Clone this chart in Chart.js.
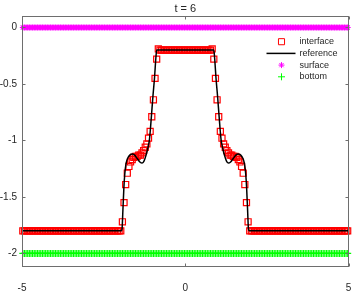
<!DOCTYPE html>
<html>
<head>
<meta charset="utf-8">
<script src="https://cdn.jsdelivr.net/npm/chart.js@4.4.1/dist/chart.umd.min.js"></script>
<style>
  html, body { margin: 0; padding: 0; background: #fff; }
</style>
</head>
<body>
<canvas id="chart" width="354" height="294"></canvas>
<script>
// 격자 (셀 중심)
var cellCount = 200;
var cellStart = -4.975;
var cellStep = 0.05;

// interface 값 (셀마다)
var interfaceY = [
  -1.8, -1.8, -1.8, -1.8, -1.8, -1.8, -1.8, -1.8, -1.8, -1.8, -1.8, -1.8, -1.8, -1.8, -1.8, -1.8, -1.8, -1.8, -1.8, -1.8,
  -1.8, -1.8, -1.8, -1.8, -1.8, -1.8, -1.8, -1.8, -1.8, -1.8, -1.8, -1.8, -1.8, -1.8, -1.8, -1.8, -1.8, -1.8, -1.8, -1.8,
  -1.8, -1.8, -1.8, -1.8, -1.8, -1.8, -1.8, -1.8, -1.8, -1.8, -1.8, -1.8, -1.8, -1.8, -1.8, -1.8, -1.8, -1.8, -1.8, -1.8,
  -1.8, -1.72, -1.55, -1.39, -1.29, -1.23, -1.19, -1.17, -1.15, -1.14, -1.14, -1.13, -1.13, -1.11, -1.09, -1.06, -1.03, -0.98, -0.92, -0.79,
  -0.64, -0.45, -0.28, -0.19, -0.2, -0.2, -0.2, -0.2, -0.2, -0.2, -0.2, -0.2, -0.2, -0.2, -0.2, -0.2, -0.2, -0.2, -0.2, -0.2,
  -0.2, -0.2, -0.2, -0.2, -0.2, -0.2, -0.2, -0.2, -0.2, -0.2, -0.2, -0.2, -0.2, -0.2, -0.2, -0.2, -0.19, -0.28, -0.45, -0.64,
  -0.79, -0.92, -0.98, -1.03, -1.06, -1.09, -1.11, -1.13, -1.13, -1.14, -1.14, -1.15, -1.17, -1.19, -1.23, -1.29, -1.39, -1.55, -1.72, -1.8,
  -1.8, -1.8, -1.8, -1.8, -1.8, -1.8, -1.8, -1.8, -1.8, -1.8, -1.8, -1.8, -1.8, -1.8, -1.8, -1.8, -1.8, -1.8, -1.8, -1.8,
  -1.8, -1.8, -1.8, -1.8, -1.8, -1.8, -1.8, -1.8, -1.8, -1.8, -1.8, -1.8, -1.8, -1.8, -1.8, -1.8, -1.8, -1.8, -1.8, -1.8,
  -1.8, -1.8, -1.8, -1.8, -1.8, -1.8, -1.8, -1.8, -1.8, -1.8, -1.8, -1.8, -1.8, -1.8, -1.8, -1.8, -1.8, -1.8, -1.8, -1.8
];

// reference 곡선
var refX = [-5, -1.96, -1.935, -1.91, -1.88, -1.85, -1.81, -1.76, -1.70, -1.62, -1.55, -1.47, -1.39, -1.32, -1.26, -1.20, -1.14, -1.10, -1.07, -1.03, -0.99, -0.94, -0.90, -0.875,
            0.875, 0.90, 0.94, 0.99, 1.03, 1.07, 1.10, 1.14, 1.20, 1.26, 1.32, 1.39, 1.47, 1.55, 1.62, 1.70, 1.76, 1.81, 1.85, 1.88, 1.91, 1.935, 1.96, 5];
var refY = [-1.8, -1.8, -1.78, -1.62, -1.42, -1.29, -1.20, -1.155, -1.13, -1.12, -1.13, -1.16, -1.19, -1.2, -1.18, -1.13, -1.06, -1.0, -0.91, -0.76, -0.61, -0.44, -0.27, -0.2,
            -0.2, -0.27, -0.44, -0.61, -0.76, -0.91, -1.0, -1.06, -1.13, -1.18, -1.2, -1.19, -1.16, -1.13, -1.12, -1.13, -1.155, -1.20, -1.29, -1.42, -1.62, -1.78, -1.8, -1.8];

var surfaceLevel = 0;
var bottomLevel = -2;

var xTicks = [-5, 0, 5];
var yTicks = [-2, -1.5, -1, -0.5, 0];

var titleText = "t = 6";
var legendLabels = ["interface", "reference", "surface", "bottom"];

var textColor = "#262626";
var axisColor = "#6e6e6e";

var gridX = [];
for (var i = 0; i < cellCount; i++) {
  gridX.push(+(cellStart + i * cellStep).toFixed(3));
}

function pairs(xs, ys) {
  var out = [];
  for (var i = 0; i < xs.length; i++) out.push({ x: xs[i], y: ys[i] });
  return out;
}

function level(xs, v) {
  var out = [];
  for (var i = 0; i < xs.length; i++) out.push({ x: xs[i], y: v });
  return out;
}

// 축 박스, 안쪽 눈금, 범례
var framePlugin = {
  id: "frame",
  afterDraw: function (chart) {
    var ctx = chart.ctx;
    var a = chart.chartArea;
    var xs = chart.scales.x;
    var ys = chart.scales.y;
    var L = Math.round(a.left) + 0.5, R = Math.round(a.right) - 0.5;
    var T = Math.round(a.top) + 0.5, B = Math.round(a.bottom) - 0.5;

    ctx.save();
    ctx.strokeStyle = axisColor;
    ctx.lineWidth = 1;
    ctx.strokeRect(L, T, R - L, B - T);

    ctx.beginPath();
    xTicks.forEach(function (v) {
      var px = Math.round(xs.getPixelForValue(v)) + 0.5;
      ctx.moveTo(px, B); ctx.lineTo(px, B - 3);
      ctx.moveTo(px, T); ctx.lineTo(px, T + 3);
    });
    yTicks.forEach(function (v) {
      var py = Math.round(ys.getPixelForValue(v)) + 0.5;
      ctx.moveTo(L, py); ctx.lineTo(L + 3, py);
      ctx.moveTo(R, py); ctx.lineTo(R - 3, py);
    });
    ctx.stroke();

    // 범례
    var textX = a.right - 49;
    var markX = a.right - 67;
    ctx.font = "9px 'Liberation Sans', Arial, sans-serif";
    ctx.textBaseline = "middle";
    ctx.textAlign = "left";
    for (var k = 0; k < legendLabels.length; k++) {
      var y = a.top + 25.5 + 11.7 * k;
      ctx.fillStyle = textColor;
      ctx.fillText(legendLabels[k], textX, y);
      ctx.fillStyle = "rgba(0,0,0,0)";
      if (k === 0) {
        ctx.strokeStyle = "#ff0000";
        Chart.helpers.drawPoint(ctx, { pointStyle: "rect", radius: 4.3, borderWidth: 1.2 }, markX, y);
      } else if (k === 1) {
        ctx.strokeStyle = "#000000";
        ctx.lineWidth = 1.5;
        ctx.beginPath();
        ctx.moveTo(a.right - 82, y);
        ctx.lineTo(a.right - 53, y);
        ctx.stroke();
        ctx.lineWidth = 1;
      } else if (k === 2) {
        ctx.strokeStyle = "#ff00ff";
        Chart.helpers.drawPoint(ctx, { pointStyle: "star", radius: 3, borderWidth: 1.2 }, markX, y);
      } else {
        ctx.strokeStyle = "#00ff00";
        Chart.helpers.drawPoint(ctx, { pointStyle: "cross", radius: 3.5, borderWidth: 1.2 }, markX, y);
      }
    }
    ctx.restore();
  }
};

Chart.defaults.font.family = "'Liberation Sans', Arial, sans-serif";
Chart.defaults.color = textColor;

new Chart(document.getElementById("chart"), {
  type: "line",
  data: {
    datasets: [
      {
        label: legendLabels[1], data: pairs(refX, refY), order: 0,
        borderColor: "#000000", borderWidth: 1.5, pointRadius: 0,
        cubicInterpolationMode: "monotone", fill: false
      },
      {
        label: legendLabels[0], data: pairs(gridX, interfaceY), order: 1,
        showLine: false, pointStyle: "rect", pointRadius: 4.3, pointBorderWidth: 1.2,
        pointBorderColor: "#ff0000", pointBackgroundColor: "rgba(0,0,0,0)", clip: false
      },
      {
        label: legendLabels[2], data: level(gridX, surfaceLevel), order: 2,
        showLine: false, pointStyle: "star", pointRadius: 3, pointBorderWidth: 1.2,
        pointBorderColor: "#ff00ff", pointBackgroundColor: "rgba(0,0,0,0)", clip: false
      },
      {
        label: legendLabels[3], data: level(gridX, bottomLevel), order: 3,
        showLine: false, pointStyle: "cross", pointRadius: 3.5, pointBorderWidth: 1.2,
        pointBorderColor: "#00ff00", pointBackgroundColor: "rgba(0,0,0,0)", clip: false
      }
    ]
  },
  options: {
    responsive: false,
    animation: false,
    layout: { padding: { left: 0, right: 1, top: 0, bottom: 0 } },
    plugins: {
      legend: { display: false },
      tooltip: { enabled: false },
      title: {
        display: true, text: titleText, fullSize: false,
        font: { size: 11, weight: "normal" }, color: textColor,
        padding: { top: 2, bottom: 1 }
      }
    },
    scales: {
      x: {
        type: "linear", min: -5, max: 5,
        grid: { display: false, drawTicks: false },
        border: { display: false },
        afterBuildTicks: function (s) { s.ticks = xTicks.map(function (v) { return { value: v }; }); },
        afterFit: function (s) { s.height = 27; s.paddingLeft = 0; s.paddingRight = 0; },
        ticks: { font: { size: 10 }, padding: 15, maxRotation: 0, callback: function (v) { return String(v); } }
      },
      y: {
        type: "linear", min: -2.12, max: 0.1,
        grid: { display: false, drawTicks: false },
        border: { display: false },
        afterBuildTicks: function (s) { s.ticks = yTicks.map(function (v) { return { value: v }; }); },
        afterFit: function (s) { s.width = 22; },
        ticks: { font: { size: 10 }, padding: 5, callback: function (v) { return String(v); } }
      }
    }
  },
  plugins: [framePlugin]
});
</script>
</body>
</html>
